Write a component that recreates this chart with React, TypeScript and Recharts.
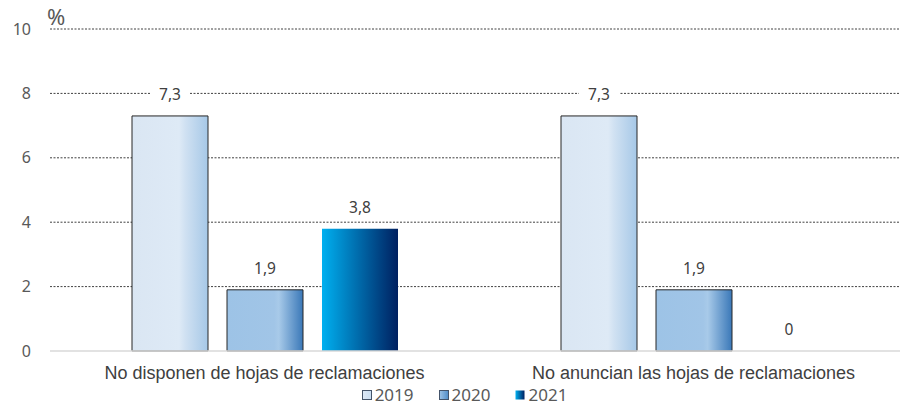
import { Bar, BarChart, CartesianGrid, Legend, XAxis, YAxis } from 'recharts'

const categories = ['No disponen de hojas de reclamaciones', 'No anuncian las hojas de reclamaciones']
const values2019 = [7.3, 7.3]
const values2020 = [1.9, 1.9]
const values2021 = [3.8, 0]
const yTicks = [0, 2, 4, 6, 8, 10]

const series = [
  { key: 'y2019', name: '2019', fill: 'url(#g2019)', legend: 'url(#lg2019)', border: '#262626' },
  { key: 'y2020', name: '2020', fill: 'url(#g2020)', legend: 'url(#lg2020)', border: '#262626' },
  { key: 'y2021', name: '2021', fill: 'url(#g2021)', legend: 'url(#lg2021)', border: 'none' },
]

const data = categories.map((cat, i) => ({
  cat,
  y2019: values2019[i],
  y2020: values2020[i],
  y2021: values2021[i],
}))

const numFont = '"Noto Sans", sans-serif'
const fmt = (v: number) => String(v).replace('.', ',')

function ValueLabel(props: any) {
  const { x, y, width, height, value } = props
  if (x == null || y == null) return null
  const cx = Number(x) + Number(width || 0) / 2
  // top of the bar (height may be tiny for a zero value)
  const top = Math.min(Number(y), Number(y) + Number(height || 0))
  const cy = top - 22
  return (
    <g>
      <rect x={cx - 20} y={cy - 9} width={40} height={18} fill="#fff" />
      <text
        x={cx}
        y={cy}
        textAnchor="middle"
        dominantBaseline="central"
        fill="#404040"
        fontSize={15.5}
        fontFamily={numFont}
      >
        {fmt(value)}
      </text>
    </g>
  )
}

function PercentLabel(props: any) {
  const { viewBox } = props
  return (
    <text
      x={viewBox.x + viewBox.width - 3}
      y={viewBox.y - 4}
      fill="#595959"
      fontSize={22}
      fontFamily={numFont}
    >
      %
    </text>
  )
}

function LegendContent() {
  return (
    <div style={{ display: 'flex', justifyContent: 'center', gap: 25, fontFamily: numFont, fontSize: 17, color: '#595959', paddingTop: 7, paddingLeft: 21 }}>
      <svg width={0} height={0} style={{ position: 'absolute' }}>
        <defs>
          <linearGradient id="lg2019" x1="0" y1="0" x2="1" y2="0">
            <stop offset="0" stopColor="#dde9f6" />
            <stop offset="1" stopColor="#c9ddf1" />
          </linearGradient>
          <linearGradient id="lg2020" x1="0" y1="0" x2="1" y2="0">
            <stop offset="0" stopColor="#9dc3e6" />
            <stop offset="1" stopColor="#4f8cc8" />
          </linearGradient>
          <linearGradient id="lg2021" x1="0" y1="0" x2="1" y2="0">
            <stop offset="0" stopColor="#00b0f0" />
            <stop offset="1" stopColor="#002060" />
          </linearGradient>
        </defs>
      </svg>
      {series.map((s) => (
        <div key={s.key} style={{ display: 'flex', alignItems: 'center', gap: 3 }}>
          <svg width={10} height={10}>
            <rect
              x={0.5}
              y={0.5}
              width={9}
              height={9}
              fill={s.legend}
              stroke={s.border === 'none' ? 'none' : '#44546a'}
            />
          </svg>
          <span>{s.name}</span>
        </div>
      ))}
    </div>
  )
}

export default function App() {
  return (
    <div style={{ position: 'absolute', left: 0, top: 0, width: 900, height: 412, overflow: 'hidden', background: '#fff' }}>
      <BarChart
        width={908}
        height={412}
        data={data}
        margin={{ top: 29, right: 0, bottom: 10, left: 0 }}
        barSize={76}
        barGap={19}
      >
        <defs>
          <linearGradient id="g2019" x1="0" y1="0" x2="1" y2="0">
            <stop offset="0" stopColor="#dae6f3" />
            <stop offset="0.62" stopColor="#deeaf6" />
            <stop offset="0.7" stopColor="#d0e1f2" />
            <stop offset="1" stopColor="#a6c8e7" />
          </linearGradient>
          <linearGradient id="g2020" x1="0" y1="0" x2="1" y2="0">
            <stop offset="0" stopColor="#9dc3e6" />
            <stop offset="0.62" stopColor="#a1c5e7" />
            <stop offset="0.68" stopColor="#a8cae9" />
            <stop offset="1" stopColor="#3a78b8" />
          </linearGradient>
          <linearGradient id="g2021" x1="0" y1="0" x2="1" y2="0">
            <stop offset="0" stopColor="#00b0f0" />
            <stop offset="0.5" stopColor="#0068a8" />
            <stop offset="1" stopColor="#002060" />
          </linearGradient>
        </defs>
        <CartesianGrid
          vertical={false}
          horizontalValues={[2, 4, 6, 8, 10]}
          stroke="#404040"
          strokeDasharray="2 1.5"
        />
        <XAxis
          dataKey="cat"
          height={25}
          tickLine={false}
          tickMargin={9}
          axisLine={{ stroke: '#d9d9d9', strokeWidth: 1.5 }}
          tick={{ fill: '#404040', fontSize: 18, fontFamily: '"Liberation Sans", Arial, sans-serif' }}
        />
        <YAxis
          domain={[0, 10]}
          ticks={yTicks}
          width={50}
          tickLine={false}
          axisLine={false}
          tickMargin={13}
          tick={{ fill: '#595959', fontSize: 16, fontFamily: numFont }}
          label={<PercentLabel />}
        />
        <Legend verticalAlign="bottom" height={26} content={<LegendContent />} />
        {series.map((s) => (
          <Bar
            key={s.key}
            dataKey={s.key}
            name={s.name}
            fill={s.fill}
            stroke={s.border}
            strokeWidth={1}
            minPointSize={0.01}
            isAnimationActive={false}
            label={(p: any) => <ValueLabel {...p} />}
          />
        ))}
      </BarChart>
    </div>
  )
}
